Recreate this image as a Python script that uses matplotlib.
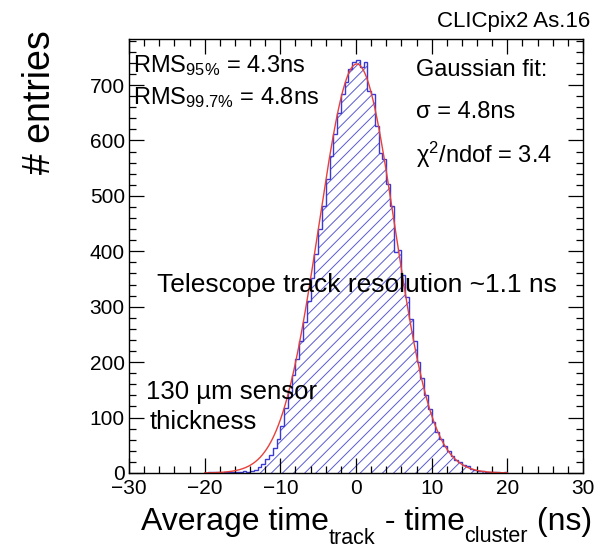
import numpy as np
import matplotlib
matplotlib.use('Agg')
import matplotlib.pyplot as plt

# 直方图数据 (0.5 ns bins, -20 .. 20 ns)
bin_edges = np.arange(-20.0, 20.0 + 0.25, 0.5)
counts = [0, 1, 2, 1, 0, 1, 2, 1, 2, 1,
          3, 2, 4, 6, 10, 17, 26, 33, 46, 62,
          84, 118, 147, 176, 205, 238, 272, 311, 352, 396,
          440, 482, 531, 572, 612, 650, 684, 706, 728, 742,
          745, 732, 741, 690, 684, 626, 578, 566, 522, 482,
          398, 402, 358, 318, 277, 239, 200, 171, 140, 116,
          92, 74, 62, 48, 40, 31, 24, 20, 14, 12,
          8, 6, 4, 3, 2, 2, 1, 1, 0, 1]

# 高斯拟合曲线参数
fit_amp = 738
fit_mean = 0.1
fit_sigma = 5.0

x_ticks = [-30, -20, -10, 0, 10, 20, 30]
y_ticks = [0, 100, 200, 300, 400, 500, 600, 700]

plt.rcParams['font.family'] = ['Liberation Sans', 'DejaVu Sans']
plt.rcParams['mathtext.fontset'] = 'custom'
plt.rcParams['mathtext.rm'] = 'Liberation Sans'
plt.rcParams['mathtext.it'] = 'Liberation Sans:italic'
plt.rcParams['mathtext.default'] = 'regular'
plt.rcParams['hatch.linewidth'] = 0.7

W, H = 605, 550
fig = plt.figure(figsize=(W / 100, H / 100), dpi=100)
ax = fig.add_axes([129 / W, 1 - 473 / H, 454 / W, 434 / H])

blue = '#3a3ad2'
hatch_blue = '#5a5ad0'
red = '#e8403a'

# 阴影填充 + 轮廓
ax.stairs(counts, bin_edges, fill=True, facecolor='none', edgecolor=hatch_blue,
          hatch='///', linewidth=0)
ax.stairs(counts, bin_edges, color=blue, linewidth=1.0)

xf = np.linspace(-20, 20, 400)
yf = fit_amp * np.exp(-0.5 * ((xf - fit_mean) / fit_sigma) ** 2)
ax.plot(xf, yf, color=red, linewidth=1.0)

ax.set_xlim(-30, 30)
ax.set_ylim(0, 783)
ax.set_xticks(x_ticks)
ax.set_yticks(y_ticks)
ax.set_xticks(np.arange(-30, 31, 2), minor=True)
ax.set_yticks(np.arange(0, 781, 20), minor=True)
ax.tick_params(which='both', direction='in', top=True, right=True, labelsize=15, pad=3)
ax.tick_params(axis='x', pad=4)
ax.tick_params(which='major', length=11, width=0.9)
ax.tick_params(which='minor', length=5, width=0.9)
for s in ax.spines.values():
    s.set_linewidth(1.0)

# 文字标注
fs = 17
fig.text(133 / W, 1 - 66 / H, r'RMS$_{95\%}$ = 4.3ns', fontsize=fs, va='center')
fig.text(133 / W, 1 - 98 / H, r'RMS$_{99.7\%}$ = 4.8ns', fontsize=fs, va='center')
fig.text(416 / W, 1 - 70 / H, 'Gaussian fit:', fontsize=fs, va='center')
fig.text(416 / W, 1 - 112 / H, 'σ = 4.8ns', fontsize=fs, va='center')
fig.text(416 / W, 1 - 155 / H, r'χ$^{2}$/ndof = 3.4', fontsize=fs, va='center')
fig.text(157 / W, 1 - 285 / H, 'Telescope track resolution ~1.1 ns', fontsize=19, va='center')
fig.text(146 / W, 1 - 392 / H, '130 µm sensor', fontsize=18.5, va='center')
fig.text(150 / W, 1 - 422 / H, 'thickness', fontsize=18.5, va='center')
fig.text(590 / W, 1 - 22 / H, 'CLICpix2 As.16', fontsize=16, va='center', ha='right')

# x轴标题: 手动拼接下标
renderer = fig.canvas.get_renderer()
pieces = [('Average time', 23, 0), ('track', 15.5, 14), (' - time', 23, 0),
          ('cluster', 15.5, 12), (' (ns)', 23, 0)]
x_px = 141
for txt, size, drop in pieces:
    t = fig.text(x_px / W, 1 - (530 + drop) / H, txt, fontsize=size, va='baseline', ha='left')
    bb = t.get_window_extent(renderer=renderer)
    x_px += bb.width

fig.text(40 / W, 1 - 30 / H, '# entries', fontsize=27, rotation=90, ha='center', va='top')

fig.savefig('out.png', dpi=100)
